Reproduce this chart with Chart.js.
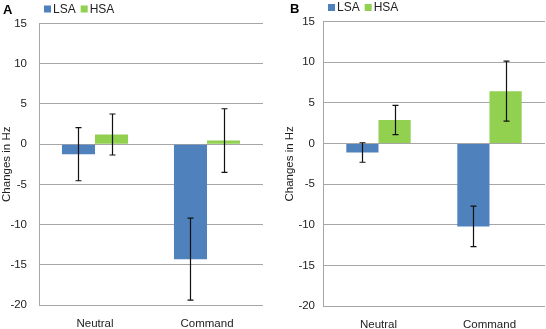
<!DOCTYPE html>
<html>
<head>
<meta charset="utf-8"/>
<title>Changes in Hz</title>
<script src="https://cdn.jsdelivr.net/npm/chart.js@4.4.0/dist/chart.umd.min.js"></script>
<style>
  body { margin: 0; background: #fff; }
  .panel { position: absolute; top: 0; width: 273px; height: 329px; }
</style>
</head>
<body>
<div class="panel" style="left:0"><canvas id="chartA" width="273" height="329"></canvas></div>
<div class="panel" style="left:273px"><canvas id="chartB" width="273" height="329"></canvas></div>
<script>
// categories and values
const categories = ['Neutral', 'Command'];
const seriesNames = ['LSA', 'HSA'];
const yTicks = [15, 10, 5, 0, -5, -10, -15, -20];

// panel A
const lsaA = [-1.25, -14.3];
const lsaErrA = [3.3, 5.1];
const hsaA = [1.2, 0.45];
const hsaErrA = [2.55, 3.95];

// panel B
const lsaB = [-1.1, -10.2];
const lsaErrB = [1.2, 2.5];
const hsaB = [2.9, 6.45];
const hsaErrB = [1.8, 3.7];

const blue = '#4f81bd';
const green = '#92d050';
const gridGray = '#a6a6a6';
const fontFamily = '"Liberation Sans", Arial, sans-serif';

// error bars drawn on top of the bars, using the y scale
const errorBars = {
  id: 'errorBars',
  afterDatasetsDraw(chart) {
    const ctx = chart.ctx;
    const y = chart.scales.y;
    ctx.save();
    ctx.strokeStyle = '#111';
    ctx.lineWidth = 1.2;
    chart.data.datasets.forEach((ds, i) => {
      chart.getDatasetMeta(i).data.forEach((bar, j) => {
        const v = ds.data[j], e = ds.errors[j];
        const top = y.getPixelForValue(v + e);
        const bot = y.getPixelForValue(v - e);
        const x = Math.round(bar.x) + 0.5;
        ctx.beginPath();
        ctx.moveTo(x, top); ctx.lineTo(x, bot);
        ctx.moveTo(x - 3, top); ctx.lineTo(x + 3, top);
        ctx.moveTo(x - 3, bot); ctx.lineTo(x + 3, bot);
        ctx.stroke();
      });
    });
    ctx.restore();
  }
};

// panel letter + small legend at the top
const topLegend = {
  id: 'topLegend',
  afterDraw(chart, args, opts) {
    const ctx = chart.ctx;
    ctx.save();
    ctx.textBaseline = 'middle';
    ctx.fillStyle = '#000';
    ctx.font = 'bold 13px ' + fontFamily;
    ctx.fillText(opts.letter, opts.letterX, opts.letterY);
    let x = chart.chartArea.left + opts.offset;
    ctx.font = '12px ' + fontFamily;
    chart.data.datasets.forEach(ds => {
      ctx.fillStyle = ds.backgroundColor;
      ctx.fillRect(x, opts.y - 3.5, 7, 7);
      ctx.fillStyle = '#222';
      ctx.fillText(ds.label, x + 9, opts.y + 0.5);
      x += 9 + ctx.measureText(ds.label).width + 5;
    });
    ctx.restore();
  }
};

function makeChart(id, lsa, lsaErr, hsa, hsaErr, cfg) {
  return new Chart(document.getElementById(id), {
    type: 'bar',
    data: {
      labels: categories,
      datasets: [
        { label: seriesNames[0], data: lsa, errors: lsaErr, backgroundColor: blue },
        { label: seriesNames[1], data: hsa, errors: hsaErr, backgroundColor: green }
      ]
    },
    options: {
      responsive: false,
      animation: false,
      layout: { padding: { top: cfg.top, right: cfg.right, bottom: 0, left: 0 } },
      datasets: { bar: { categoryPercentage: cfg.catPct, barPercentage: 1 } },
      plugins: {
        legend: { display: false },
        tooltip: { enabled: false },
        topLegend: cfg.legend
      },
      scales: {
        x: {
          grid: { display: false },
          border: { display: false },
          ticks: { color: '#222', font: { family: fontFamily, size: 11.5 }, padding: cfg.xPad, maxRotation: 0 },
          afterFit: s => { s.height = 329 - cfg.bottomY; }
        },
        y: {
          min: -20, max: 15,
          afterBuildTicks: s => { s.ticks = yTicks.map(v => ({ value: v })); },
          grid: { color: gridGray, drawTicks: false },
          border: { color: gridGray },
          ticks: { color: '#222', font: { family: fontFamily, size: 11.5 }, padding: cfg.yPad },
          title: {
            display: true, text: 'Changes in Hz', color: '#222',
            font: { family: fontFamily, size: 11.5 }, padding: { top: cfg.titlePad, bottom: 0 }
          },
          afterFit: s => { s.width = cfg.axisW; }
        }
      }
    },
    plugins: [errorBars, topLegend]
  });
}

makeChart('chartA', lsaA, lsaErrA, hsaA, hsaErrA, {
  top: 23.5, right: 10, bottomY: 305, axisW: 39, yPad: 12, xPad: 3.5, titlePad: 0, catPct: 0.59,
  legend: { letter: 'A', letterX: 3, letterY: 10, offset: 5, y: 9 }
});

makeChart('chartB', lsaB, lsaErrB, hsaB, hsaErrB, {
  top: 21.7, right: 1, bottomY: 306, axisW: 50, yPad: 8, xPad: 4, titlePad: 10, catPct: 0.58,
  legend: { letter: 'B', letterX: 17, letterY: 9, offset: 5, y: 7.5 }
});
</script>
</body>
</html>
